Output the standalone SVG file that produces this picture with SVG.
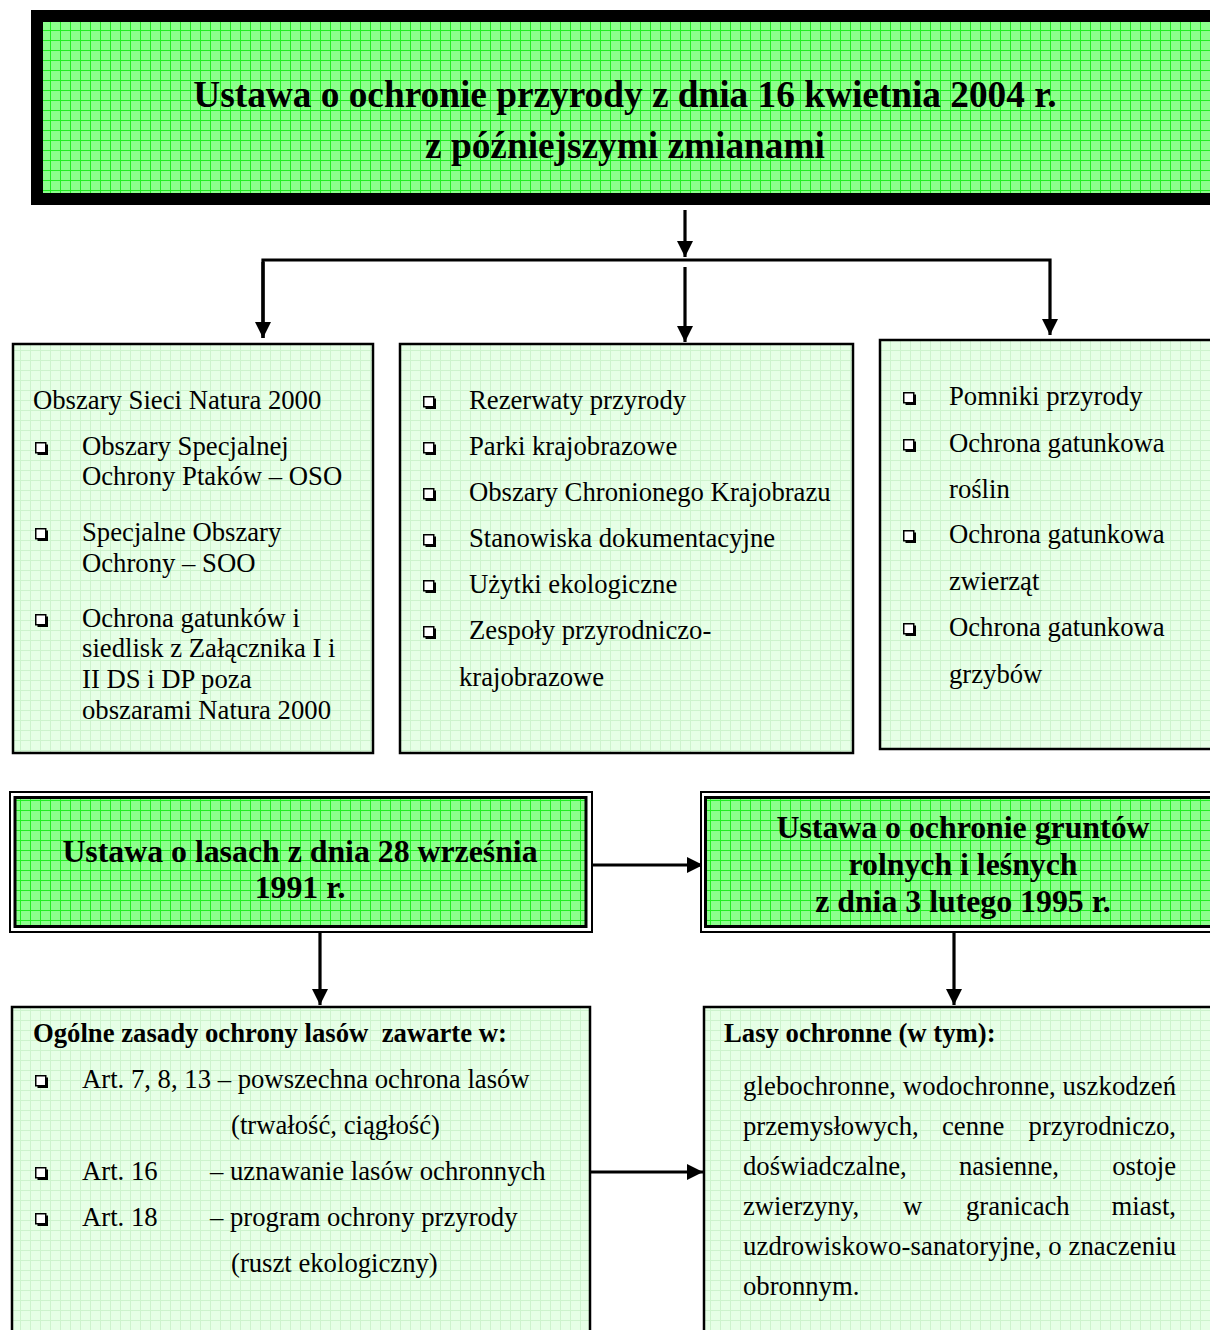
<svg xmlns="http://www.w3.org/2000/svg" xmlns:xlink="http://www.w3.org/1999/xlink" width="1210" height="1330" viewBox="0 0 1210 1330">
<style>
.t{font-family:"Liberation Serif","Times New Roman",serif;font-size:26.7px;fill:#000}
.b{font-weight:bold}
.h1{font-family:"Liberation Serif","Times New Roman",serif;font-size:37.3px;font-weight:bold;fill:#000}
.h2{font-family:"Liberation Serif","Times New Roman",serif;font-size:31.8px;font-weight:bold;fill:#000}
.lb{fill:url(#pl);stroke:#000;stroke-width:2.5}
.ln{stroke:#000;stroke-width:3.2;fill:none}
</style>
<defs>
<pattern id="pg" width="10" height="10" patternUnits="userSpaceOnUse">
<rect width="10" height="10" fill="#8cff8c"/>
<path d="M0 0.5H10M0.5 0V10" stroke="#22ee22" stroke-width="1"/>
</pattern>
<pattern id="pl" width="10" height="10" patternUnits="userSpaceOnUse">
<rect width="10" height="10" fill="#e6ffe6"/>
<path d="M0 0.5H10M0.5 0V10" stroke="#cdf3cd" stroke-width="1"/>
</pattern>
<marker id="ar" markerWidth="16" markerHeight="16" viewBox="0 0 16 16" refX="16" refY="8" orient="auto" markerUnits="userSpaceOnUse">
<path d="M0 0L16 8L0 16Z" fill="#000"/>
</marker>
<g id="bul">
<rect x="0.75" y="0.75" width="10" height="10" fill="#fff" stroke="#000" stroke-width="1.5"/>
<path d="M2.5 11.8H11.8V2.5" stroke="#000" stroke-width="2.4" fill="none"/>
</g>
<clipPath id="cg"><rect x="706" y="799" width="510" height="126"/></clipPath>
</defs>

<g id="connectors">
<line class="ln" x1="685" y1="210" x2="685" y2="257" marker-end="url(#ar)"/>
<polyline class="ln" points="263,338 263,260 1050,260 1050,335" marker-end="url(#ar)"/>
<line class="ln" x1="263" y1="262" x2="263" y2="338" marker-end="url(#ar)"/>
<line class="ln" x1="685" y1="267" x2="685" y2="342" marker-end="url(#ar)"/>
<line class="ln" x1="592" y1="865" x2="703" y2="865" marker-end="url(#ar)"/>
<line class="ln" x1="320" y1="933" x2="320" y2="1005" marker-end="url(#ar)"/>
<line class="ln" x1="954" y1="933" x2="954" y2="1005" marker-end="url(#ar)"/>
<line class="ln" x1="590" y1="1172" x2="703" y2="1172" marker-end="url(#ar)"/>
</g>

<g id="n-ustawa-przyroda">
<rect x="37" y="16" width="1185" height="183" fill="url(#pg)" stroke="#000" stroke-width="12"/>
<text class="h1" x="625" y="107" text-anchor="middle">Ustawa o ochronie przyrody z dnia 16 kwietnia 2004 r.</text>
<text class="h1" x="625" y="158" text-anchor="middle">z późniejszymi zmianami</text>
</g>

<g id="n-natura">
<rect class="lb" x="13" y="344" width="360" height="409"/>
<text class="t" x="33" y="409">Obszary Sieci Natura 2000</text>
<use href="#bul" x="35" y="442"/>
<text class="t" x="82" y="455">Obszary Specjalnej</text>
<text class="t" x="82" y="485">Ochrony Ptaków – OSO</text>
<use href="#bul" x="35" y="528"/>
<text class="t" x="82" y="541">Specjalne Obszary</text>
<text class="t" x="82" y="572">Ochrony – SOO</text>
<use href="#bul" x="35" y="614"/>
<text class="t" x="82" y="627">Ochrona gatunków i</text>
<text class="t" x="82" y="657">siedlisk z Załącznika I i</text>
<text class="t" x="82" y="688">II DS i DP poza</text>
<text class="t" x="82" y="719">obszarami Natura 2000</text>
</g>

<g id="n-rezerwaty">
<rect class="lb" x="400" y="344" width="453" height="409"/>
<use href="#bul" x="423" y="396"/>
<text class="t" x="469" y="409">Rezerwaty przyrody</text>
<use href="#bul" x="423" y="442"/>
<text class="t" x="469" y="455">Parki krajobrazowe</text>
<use href="#bul" x="423" y="488"/>
<text class="t" x="469" y="501">Obszary Chronionego Krajobrazu</text>
<use href="#bul" x="423" y="534"/>
<text class="t" x="469" y="547">Stanowiska dokumentacyjne</text>
<use href="#bul" x="423" y="580"/>
<text class="t" x="469" y="593">Użytki ekologiczne</text>
<use href="#bul" x="423" y="626"/>
<text class="t" x="469" y="639">Zespoły przyrodniczo-</text>
<text class="t" x="459" y="686">krajobrazowe</text>
</g>

<g id="n-pomniki">
<rect class="lb" x="880" y="340" width="340" height="409"/>
<use href="#bul" x="903" y="392"/>
<text class="t" x="949" y="405">Pomniki przyrody</text>
<use href="#bul" x="903" y="439"/>
<text class="t" x="949" y="452">Ochrona gatunkowa</text>
<text class="t" x="949" y="498">roślin</text>
<use href="#bul" x="903" y="530"/>
<text class="t" x="949" y="543">Ochrona gatunkowa</text>
<text class="t" x="949" y="590">zwierząt</text>
<use href="#bul" x="903" y="623"/>
<text class="t" x="949" y="636">Ochrona gatunkowa</text>
<text class="t" x="949" y="683">grzybów</text>
</g>

<g id="n-lasy">
<rect x="10" y="792" width="582" height="140" fill="#fff" stroke="#000" stroke-width="2"/>
<rect x="15" y="797.5" width="571" height="129" fill="url(#pg)" stroke="#000" stroke-width="3"/>
<text class="h2" x="300" y="862" text-anchor="middle">Ustawa o lasach z dnia 28 września</text>
<text class="h2" x="300" y="898" text-anchor="middle">1991 r.</text>
</g>

<g id="n-grunty">
<rect x="701" y="792" width="520" height="140" fill="#fff" stroke="#000" stroke-width="2"/>
<rect x="705.5" y="797.5" width="515" height="129" fill="url(#pg)" stroke="#000" stroke-width="3"/>
<g clip-path="url(#cg)">
<text class="h2" x="963" y="838" text-anchor="middle">Ustawa o ochronie gruntów</text>
<text class="h2" x="963" y="875" text-anchor="middle">rolnych i leśnych</text>
<text class="h2" x="963" y="912" text-anchor="middle">z dnia 3 lutego 1995 r.</text>
</g>
</g>

<g id="n-zasady">
<rect class="lb" x="12" y="1007" width="578" height="330"/>
<text class="t b" x="33" y="1042" style="white-space:pre">Ogólne zasady ochrony lasów  zawarte w:</text>
<use href="#bul" x="35" y="1075"/>
<text class="t" x="82" y="1088">Art. 7, 8, 13 – powszechna ochrona lasów</text>
<text class="t" x="231" y="1134">(trwałość, ciągłość)</text>
<use href="#bul" x="35" y="1167"/>
<text class="t" x="82" y="1180">Art. 16</text>
<text class="t" x="210" y="1180">– uznawanie lasów ochronnych</text>
<use href="#bul" x="35" y="1213"/>
<text class="t" x="82" y="1226">Art. 18</text>
<text class="t" x="210" y="1226">– program ochrony przyrody</text>
<text class="t" x="231" y="1272">(ruszt ekologiczny)</text>
</g>

<g id="n-ochronne">
<rect class="lb" x="704" y="1007" width="520" height="330"/>
<text class="t b" x="724" y="1042">Lasy ochronne (w tym):</text>
<text class="t" x="743" y="1095" textLength="433" lengthAdjust="spacing">glebochronne, wodochronne, uszkodzeń</text>
<text class="t" x="743" y="1135">przemysłowych,</text>
<text class="t" x="942" y="1135">cenne</text>
<text class="t" x="1176" y="1135" text-anchor="end">przyrodniczo,</text>
<text class="t" x="743" y="1175">doświadczalne,</text>
<text class="t" x="959" y="1175">nasienne,</text>
<text class="t" x="1176" y="1175" text-anchor="end">ostoje</text>
<text class="t" x="743" y="1215">zwierzyny,</text>
<text class="t" x="903" y="1215">w</text>
<text class="t" x="966" y="1215">granicach</text>
<text class="t" x="1176" y="1215" text-anchor="end">miast,</text>
<text class="t" x="743" y="1255" textLength="433" lengthAdjust="spacing">uzdrowiskowo-sanatoryjne, o znaczeniu</text>
<text class="t" x="743" y="1295">obronnym.</text>
</g>
</svg>
